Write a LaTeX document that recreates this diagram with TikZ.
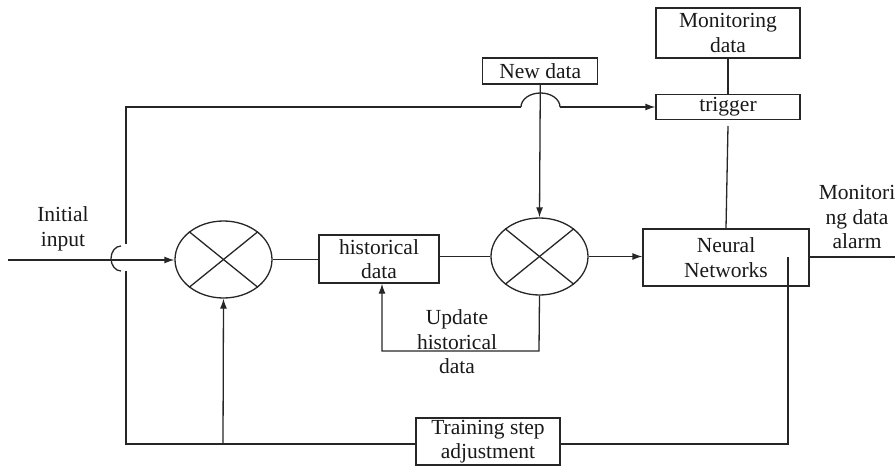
\documentclass[tikz,border=0pt]{standalone}
\usepackage{fontspec}
\setmainfont{Liberation Serif}
\usetikzlibrary{shapes.geometric,arrows.meta,calc}
\begin{document}
\begin{tikzpicture}[x=1pt,y=-1pt,
  every node/.style={font=\fontsize{21.5}{24.5}\selectfont, inner sep=0pt, align=center, text=black!90},
  box/.style={draw=black!85, line width=1.3pt, rectangle},
  mixer/.style={draw=black!85, line width=1.3pt, ellipse, minimum width=97pt, minimum height=77pt},
  wire/.style={line width=1.3pt, draw=black!85},
  arr/.style={wire, -{Latex[length=10pt,width=7pt]}},
]
\useasboundingbox (0,0) rectangle (895,468);

% blocks
\node[box, minimum width=115pt, minimum height=26pt] (newdata) at (540.3,71) {New data};
\node[box, minimum width=144pt, minimum height=50pt] (mon) at (728,33) {Monitoring\\data};
\node[box, minimum width=144pt, minimum height=25pt] (trig) at (728,107) {trigger};
\node[box, minimum width=166pt, minimum height=57pt] (nn) at (726,257.5) {Neural\\Networks};
\node[box, minimum width=120pt, minimum height=48pt] (hist) at (379,259) {historical\\data};
\node[box, minimum width=144pt, minimum height=47pt] (train) at (488,441.5) {Training step\\adjustment};

% multiplier junctions
\node[mixer] (e1) at (223.5,259.5) {};
\node[mixer] (e2) at (539.5,256.5) {};
\foreach \e in {e1,e2}{
  \draw[wire] (\e.39) -- (\e.219);
  \draw[wire] (\e.141) -- (\e.321);
}

% labels
\node (lin) at (63,229) {Initial\\input};
\node (lalarm) at (857,217) {Monitori\\ng data\\alarm};
\node (lupd) at (457,342) {Update\\historical\\data};

% free ends and corners
\coordinate (in0) at (8,260);
\coordinate (out0) at (895,257);
\coordinate (bl) at (126,444);
\coordinate (tl) at (126,107);
\coordinate (vlo) at (126,271);
\coordinate (vhi) at (126,244);
\coordinate (hl) at (521,107);
\coordinate (hr) at (560,107);
\coordinate (fb) at (223,444);
\coordinate (nnin) at (788,257);
\coordinate (upd) at (539,351);
\coordinate (trgo) at (728,126);

% main forward path
\draw[arr] (in0) -- (e1.west |- in0);
\draw[wire] (e1.east) -- (hist.west |- e1.east);
\draw[wire] (hist.east |- e2.west) -- (e2.west);
\draw[arr] (e2.east) -- (nn.west |- e2.east);
\draw[wire] (nn.east |- out0) -- (out0);

% bypass line to the trigger, with crossing hops
\draw[wire] (train.west |- bl) -- (bl) -- (vlo);
\draw[wire] (vhi) -- (tl) -- (hl);
\draw[arr] (hr) -- (trig.west);
\draw[wire] (121,246) arc[start angle=90, end angle=270, x radius=10, y radius=-12.5];
\draw[wire] (hl) arc[start angle=180, end angle=0, x radius=19.5, y radius=-14];

% feedback from training step
\draw[arr] (fb) -- (e1.south);
\draw[wire] (train.east |- bl) -| (nnin);

% new data and update loop
\draw[arr] (newdata.south) -- (e2.north);
\draw[arr] (e2.south) -- (upd) -| ($(hist.south)+(3,0)$);

% monitoring chain
\draw[wire] (mon.south) -- (trig.north);
\draw[wire] (trgo) -- (nn.north);
\end{tikzpicture}
\end{document}
